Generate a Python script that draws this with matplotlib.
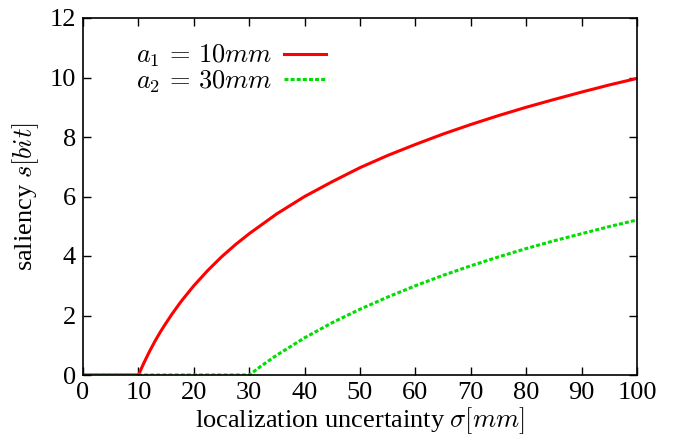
import matplotlib
matplotlib.use('Agg')
import matplotlib.pyplot as plt

# values
sigma_1 = [0, 10, 11, 12, 13, 14, 15, 16, 17.5, 18, 20, 22.5, 25, 27.5, 30,
           35, 40, 45, 50, 55, 60, 65, 70, 75, 80, 85, 90, 95, 100]
s_1 = [0, 0, 0.41, 0.79, 1.14, 1.46, 1.75, 2.03, 2.42, 2.54, 3.0, 3.51,
       3.97, 4.38, 4.75, 5.42, 6.0, 6.5, 6.97, 7.38, 7.75, 8.1, 8.42, 8.72,
       9.0, 9.26, 9.51, 9.75, 9.97]

sigma_2 = [0, 30, 31, 32, 33, 35, 37.5, 40, 45, 50, 55, 60, 65, 70, 75,
           80, 85, 90, 95, 100]
s_2 = [0, 0, 0.14, 0.28, 0.41, 0.67, 0.96, 1.25, 1.76, 2.21, 2.62, 3.0,
       3.35, 3.67, 3.97, 4.25, 4.51, 4.75, 4.99, 5.21]

plt.rcParams.update({
    'font.family': ['Liberation Serif', 'DejaVu Serif'],
    'mathtext.fontset': 'cm',
    'font.size': 19,
})

fig = plt.figure(figsize=(6.75, 4.43), dpi=100)
ax = fig.add_axes([83 / 675, 1 - 375 / 443, (637 - 83) / 675, (375 - 18) / 443])

ax.plot(sigma_1, s_1, '-', color='#ff0000', linewidth=2.2,
        label=r'$a_1\,=\,10mm$')
ax.plot(sigma_2, s_2, color='#00dd00', linewidth=2.2, dashes=(1.3, 0.7),
        label=r'$a_2\,=\,30mm$')

ax.set_xlim(0, 100)
ax.set_ylim(0, 12)
ax.set_xticks(range(0, 101, 10))
ax.set_yticks(range(0, 13, 2))
ax.tick_params(direction='in', top=True, right=True, length=6, width=1,
               labelsize=19, pad=5)
for sp in ax.spines.values():
    sp.set_linewidth(1.2)

ax.set_xlabel(r'localization uncertainty $\sigma[mm]$', fontsize=19, labelpad=1)
ax.set_ylabel(r'saliency $s[bit]$', fontsize=19, labelpad=6)

ax.legend(loc='upper left', bbox_to_anchor=(0.095, 0.93), frameon=False,
          markerfirst=False, fontsize=19, handlelength=1.6,
          labelspacing=-0.05, handletextpad=0.45, borderpad=0,
          borderaxespad=0)

fig.savefig('out.png', dpi=100)
